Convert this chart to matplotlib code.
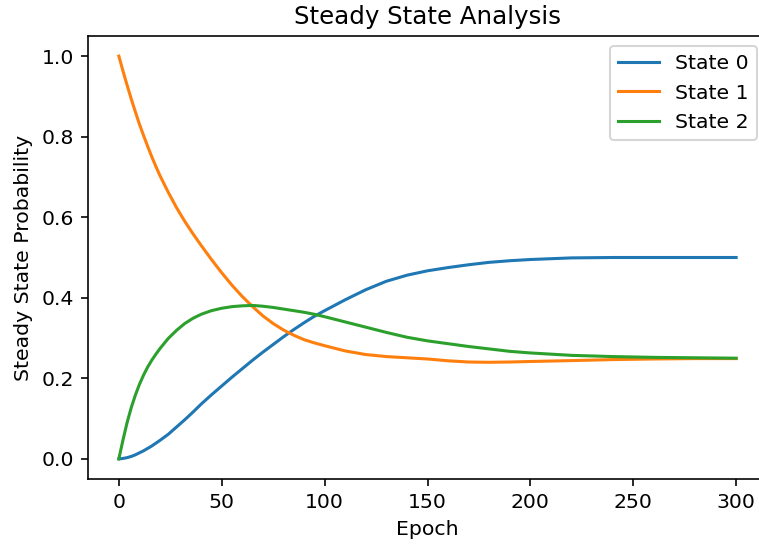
import matplotlib
matplotlib.use("Agg")
import matplotlib.pyplot as plt

# values
epochs = [0, 2, 4, 6, 8, 10, 12, 14, 16, 18, 20, 24, 28, 32, 36, 40, 45, 50,
          55, 60, 65, 70, 75, 80, 85, 90, 95, 100, 110, 120, 130, 140, 150,
          160, 170, 180, 190, 200, 220, 240, 260, 280, 300]
state0 = [0.0, 0.001, 0.003, 0.006, 0.010, 0.015, 0.020, 0.026, 0.032, 0.039,
          0.046, 0.061, 0.079, 0.097, 0.116, 0.136, 0.159, 0.181, 0.203, 0.224,
          0.245, 0.265, 0.284, 0.303, 0.321, 0.338, 0.354, 0.368, 0.395, 0.420,
          0.441, 0.456, 0.467, 0.475, 0.482, 0.488, 0.492, 0.495, 0.499, 0.500,
          0.500, 0.500, 0.500]
state1 = [1.0, 0.963, 0.928, 0.894, 0.862, 0.831, 0.803, 0.776, 0.750, 0.726,
          0.703, 0.662, 0.624, 0.590, 0.559, 0.530, 0.495, 0.462, 0.431, 0.403,
          0.378, 0.355, 0.336, 0.320, 0.307, 0.296, 0.288, 0.281, 0.268, 0.259,
          0.254, 0.251, 0.248, 0.2435, 0.2405, 0.2398, 0.2405, 0.2418, 0.244,
          0.2465, 0.248, 0.249, 0.249]
state2 = [0.0, 0.047, 0.090, 0.127, 0.158, 0.185, 0.208, 0.228, 0.245, 0.260,
          0.274, 0.299, 0.319, 0.336, 0.349, 0.359, 0.368, 0.374, 0.378, 0.380,
          0.381, 0.379, 0.376, 0.372, 0.368, 0.364, 0.359, 0.353, 0.340, 0.327,
          0.314, 0.302, 0.293, 0.286, 0.279, 0.273, 0.267, 0.263, 0.257, 0.254,
          0.252, 0.251, 0.250]

series = {"State 0": state0, "State 1": state1, "State 2": state2}

dpi = 147
W, H = 759, 544
fig = plt.figure(figsize=(W / dpi, H / dpi), dpi=dpi)
# the reference is cut off at the right, past the right spine
ax = fig.add_axes([88 / W, 1 - 479 / H, (767 - 88) / W, (479 - 36) / H])

for name, vals in series.items():
    ax.plot(epochs, vals, label=name, linewidth=1.5)

ax.set_title("Steady State Analysis")
ax.set_xlabel("Epoch")
ax.set_ylabel("Steady State Probability")
ax.legend(loc="upper right")

fig.savefig("out.png", dpi=dpi)
